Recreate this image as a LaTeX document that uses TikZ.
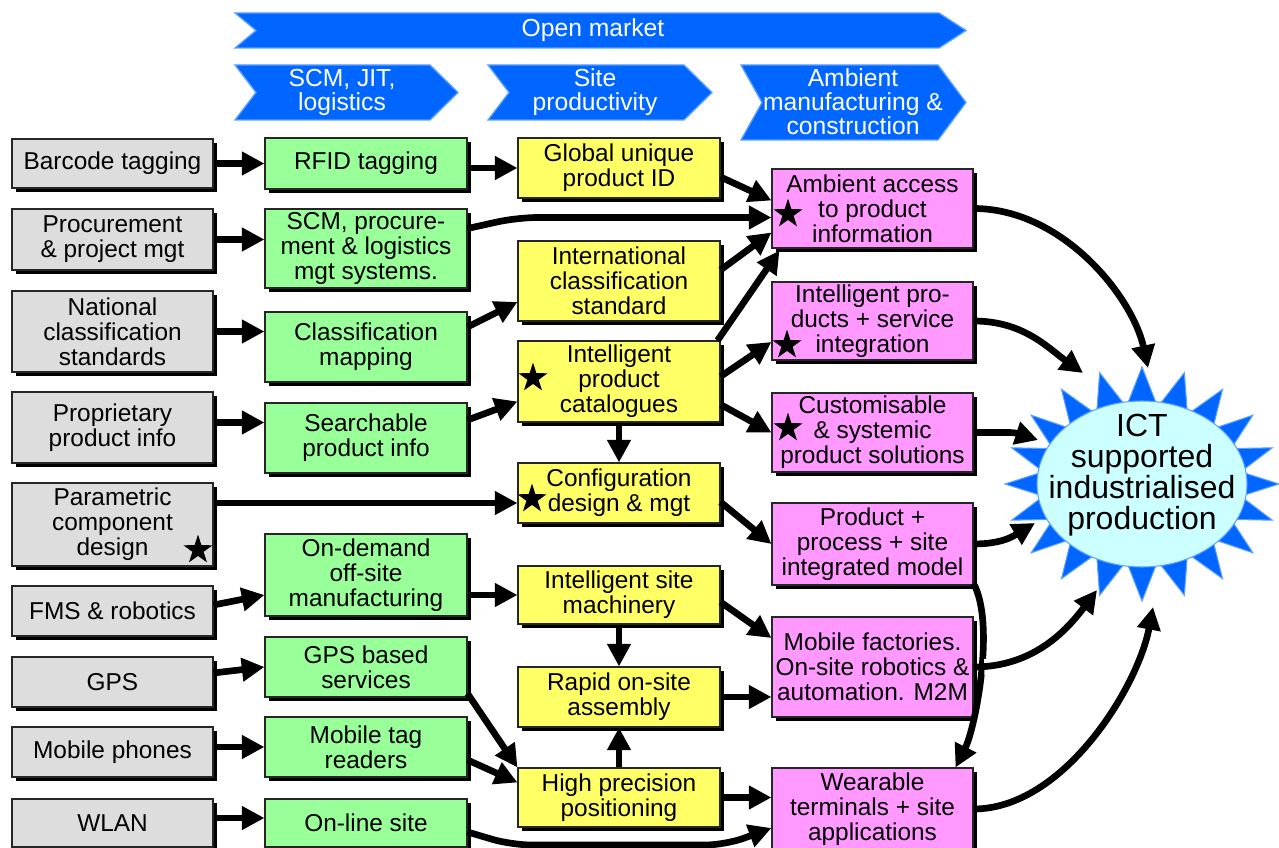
\documentclass[tikz,border=0pt]{standalone}
\usepackage{fontspec}
\setmainfont{Liberation Sans}
\usetikzlibrary{arrows.meta,shapes.geometric,shadows,calc}

\definecolor{boxgray}{RGB}{221,221,221}
\definecolor{boxgreen}{RGB}{153,255,153}
\definecolor{boxyellow}{RGB}{255,255,102}
\definecolor{boxpink}{RGB}{255,153,255}
\definecolor{bannerblue}{RGB}{0,102,255}
\definecolor{bannerlight}{RGB}{90,160,255}
\definecolor{ellcyan}{RGB}{204,255,255}

\tikzset{
  box/.style={draw=black!85, line width=0.8pt, inner sep=0pt, align=center,
    font=\fontsize{18.3}{18.8}\selectfont,
    drop shadow={shadow xshift=3pt, shadow yshift=-3pt, fill=black, opacity=1}},
  graybox/.style={box, fill=boxgray},
  greenbox/.style={box, fill=boxgreen},
  yellowbox/.style={box, fill=boxyellow},
  pinkbox/.style={box, fill=boxpink},
  arr/.style={line width=5pt, line join=round, -{Triangle[length=17pt,width=17pt]}},
  starmark/.style={star, star points=5, star point ratio=2.6, fill=black,
    inner sep=0pt, minimum size=23pt},
  banner/.style={fill=bannerblue, draw=bannerlight, line width=1pt},
  bannertext/.style={text=white, align=center, font=\fontsize{18.5}{18}\selectfont},
}

% box from its corners (in pixel units): style, name, x0, y0, x1, y1, text
\newcommand\placebox[7]{%
  \node[#1, minimum width={0.75pt*(#5-#3)}, minimum height={0.75pt*(#6-#4)}]
    (#2) at ({(#3+#5)/2},{(#4+#6)/2}) {#7};}

\begin{document}
\begin{tikzpicture}[x=0.75pt, y=-0.75pt]
\useasboundingbox (0,0) rectangle (1279,848);

% ---------- banners ----------
\fill[banner] (235,13) -- (939,13) -- (966,30.5) -- (939,48) -- (235,48) -- (256,30.5) -- cycle;
\node[bannertext] (bOpen) at (593,30) {Open market};
\fill[banner] (235,65) -- (430,65) -- (458,92.5) -- (430,120) -- (235,120) -- (256,92.5) -- cycle;
\node[bannertext] (bScm) at (342,92) {SCM, JIT,\\logistics};
\fill[banner] (488,65) -- (684,65) -- (712,92.5) -- (684,120) -- (488,120) -- (509,92.5) -- cycle;
\node[bannertext] (bSite) at (595,92) {Site\\productivity};
\fill[banner] (741,65) -- (938,65) -- (966,102.5) -- (938,140) -- (741,140) -- (762,102.5) -- cycle;
\node[bannertext] (bAmb) at (853,102) {Ambient\\manufacturing \&\\construction};

% ---------- enabling technologies ----------
\placebox{graybox}{g1}{12}{139}{213}{188}{Barcode tagging}
\placebox{graybox}{g2}{12}{209}{213}{270}{Procurement\\\& project mgt}
\placebox{graybox}{g3}{12}{291}{213}{372}{National\\classification\\standards}
\placebox{graybox}{g4}{12}{392}{213}{463}{Proprietary\\product info}
\placebox{graybox}{g5}{12}{483}{213}{566}{Parametric\\component\\design}
\placebox{graybox}{g6}{12}{586}{213}{636}{FMS \& robotics}
\placebox{graybox}{g7}{12}{657}{213}{707}{GPS}
\placebox{graybox}{g8}{12}{727}{213}{777}{Mobile phones}
\placebox{graybox}{g9}{12}{799}{213}{847}{WLAN}

% ---------- applications ----------
\placebox{greenbox}{n1}{265}{138}{467}{189}{RFID tagging}
\placebox{greenbox}{n2}{265}{209}{467}{288}{SCM, procure-\\ment \& logistics\\mgt systems.}
\placebox{greenbox}{n3}{265}{312}{467}{382}{Classification\\mapping}
\placebox{greenbox}{n4}{265}{403}{467}{473}{Searchable\\product info}
\placebox{greenbox}{n5}{265}{534}{467}{616}{On-demand\\off-site\\manufacturing}
\placebox{greenbox}{n6}{265}{637}{467}{697}{GPS based\\services}
\placebox{greenbox}{n7}{265}{717}{467}{777}{Mobile tag\\readers}
\placebox{greenbox}{n8}{265}{799}{467}{847}{On-line site}

% ---------- site productivity ----------
\placebox{yellowbox}{y1}{518}{138}{720}{198}{Global unique\\product ID}
\placebox{yellowbox}{y2}{518}{241}{720}{321}{International\\classification\\standard}
\placebox{yellowbox}{y3}{518}{341}{720}{422}{Intelligent\\product\\catalogues}
\placebox{yellowbox}{y4}{518}{463}{720}{523}{Configuration\\design \& mgt}
\placebox{yellowbox}{y5}{518}{566}{720}{624}{Intelligent site\\machinery}
\placebox{yellowbox}{y6}{518}{667}{720}{727}{Rapid on-site\\assembly}
\placebox{yellowbox}{y7}{518}{768}{720}{827}{High precision\\positioning}

% ---------- ambient manufacturing ----------
\placebox{pinkbox}{p1}{772}{169}{973}{248}{Ambient access\\to product\\information}
\placebox{pinkbox}{p2}{772}{282}{973}{360}{Intelligent pro-\\ducts + service\\integration}
\placebox{pinkbox}{p3}{772}{393}{973}{472}{Customisable\\\& systemic\\product solutions}
\placebox{pinkbox}{p4}{772}{503}{973}{585}{Product +\\process + site\\integrated model}
\placebox{pinkbox}{p5}{772}{617}{973}{717}{Mobile factories.\\On-site robotics \&\\automation. M2M}
\placebox{pinkbox}{p6}{772}{768}{973}{850}{Wearable\\terminals + site\\applications}

% ---------- star marks ----------
\node[starmark] (s1) at (198,550) {};
\node[starmark] (s2) at (533,378) {};
\node[starmark] (s3) at (532,499) {};
\node[starmark] (s4) at (788,214) {};
\node[starmark] (s5) at (787,345) {};
\node[starmark] (s6) at (788,428) {};

% ---------- goal burst ----------
\coordinate (bc) at (1142,484);
\fill[bannerblue, draw=bannerlight, line width=0.8pt, line join=miter]
  ($(bc)+(137,0)$)
  \foreach \i [evaluate=\i as \rx using {isodd(\i) ? 100 : 137},
               evaluate=\i as \ry using {isodd(\i) ? 78 : 117}] in {1,...,39}
    { -- ($(bc)+({\rx*cos(9*\i)},{\ry*sin(9*\i)})$) } -- cycle;
\node[ellipse, fill=ellcyan, draw=bannerlight, line width=0.8pt, inner sep=0pt,
      minimum width=157.5pt, minimum height=124.5pt] (b) at (bc) {};
\node[align=center, font=\fontsize{24}{23.3}\selectfont] (bt) at (1142,475)
  {ICT\\supported\\industrialised\\production};

% ---------- technology -> application ----------
\draw[arr] (g1.east) -- (n1.west);
\draw[arr] (g2.east) -- (n2.west |- g2.east);
\draw[arr] (g3.east) -- (n3.west |- g3.east);
\draw[arr] ($(g4.east)+(0,-5)$) -- ($(n4.west |- g4.east)+(0,-5)$);
\coordinate (c5) at ($(y4.west)+(0,10)$);
\draw[arr] (g5.east |- c5) -- (c5);
\draw[arr] ($(g6.east)+(0,-6)$) -- ($(n5.west)+(0,20)$);
\draw[arr] ($(g7.east)+(0,-9)$) -- (n6.west);
\draw[arr] (g8.east |- n7.west) -- (n7.west);
\draw[arr] ($(g9.east)+(0,-5)$) -- ($(n8.west)+(0,-5)$);

% ---------- application -> site productivity ----------
\draw[arr] (n1.east |- y1.west) -- (y1.west);
\draw[arr, rounded corners=15pt] ($(n2.east)+(0,-20)$) -- ($(y1.west |- p1.west)+(0,9)$) -- ($(p1.west)+(0,9)$);
\draw[arr] ($(n3.east)+(0,-20)$) -- ($(y2.west)+(0,21)$);
\draw[arr] ($(n4.east)+(0,-18)$) -- ($(y3.west)+(0,20)$);
\draw[arr] (n5.east |- y5.west) -- (y5.west);
\draw[arr] ($(n6.south east)+(0,-4)$) -- (y7.north west);
\draw[arr] ($(n7.east)+(0,13)$) -- ($(y7.west)+(0,-15)$);
\draw[arr, rounded corners=15pt] ($(n8.east)+(0,9)$) -- ($(n8.east)+(44,22)$) -- ($(y7.east |- n8.east)+(5,22)$) -- ($(p6.west)+(0,19)$);

% ---------- within site productivity ----------
\draw[arr] (y3.south) -- (y4.north);
\draw[arr] (y5.south) -- (y6.north);
\draw[arr] (y7.north) -- (y6.south);

% ---------- site productivity -> ambient ----------
\draw[arr] ($(y1.east)+(0,9)$) -- ($(p1.west)+(0,-8)$);
\draw[arr] ($(y2.east)+(0,-11)$) -- ($(p1.west)+(0,24)$);
\draw[arr] ($(y3.north east)+(-3,0)$) -- ($(p1.south west)+(8,2)$);
\draw[arr] ($(y3.east)+(0,-5)$) -- ($(p2.west)+(0,21)$);
\draw[arr] ($(y3.east)+(0,23)$) -- (p3.west);
\draw[arr] ($(y4.east)+(0,9)$) -- (p4.west);
\draw[arr] ($(y5.east)+(0,7)$) -- ($(p5.west)+(0,-29)$);
\draw[arr] (y6.east) -- (p5.west |- y6.east);
\draw[arr] (y7.east) -- (p6.west |- y7.east);

% ---------- ambient -> goal ----------
\draw[arr] (p1.east) .. controls +(90,0) and +(-15,-70) .. ($(b)+(6,-116)$);
\draw[arr] (p2.east) .. controls +(50,0) and +(-35,-25) .. ($(b)+(-59,-111)$);
\draw[arr] (p3.east) .. controls +(30,0) and +(-25,-8) .. ($(b)+(-104,-44)$);
\draw[arr] (p4.east) .. controls +(30,0) and +(-20,12) .. ($(b)+(-107,39)$);
\draw[arr] ($(p4.south east)+(0,-2)$) .. controls +(22,40) and +(20,-40) .. ($(p6.north east)+(-18,0)$);
\draw[white, line width=12pt, shorten <=8pt, shorten >=70pt]
  (p5.east) .. controls +(60,0) and +(-30,40) .. ($(b)+(-45,106)$);
\draw[arr] (p5.east) .. controls +(60,0) and +(-30,40) .. ($(b)+(-45,106)$);
\draw[arr] (p6.east) .. controls +(90,0) and +(-15,80) .. ($(b)+(11,123)$);
\end{tikzpicture}
\end{document}
